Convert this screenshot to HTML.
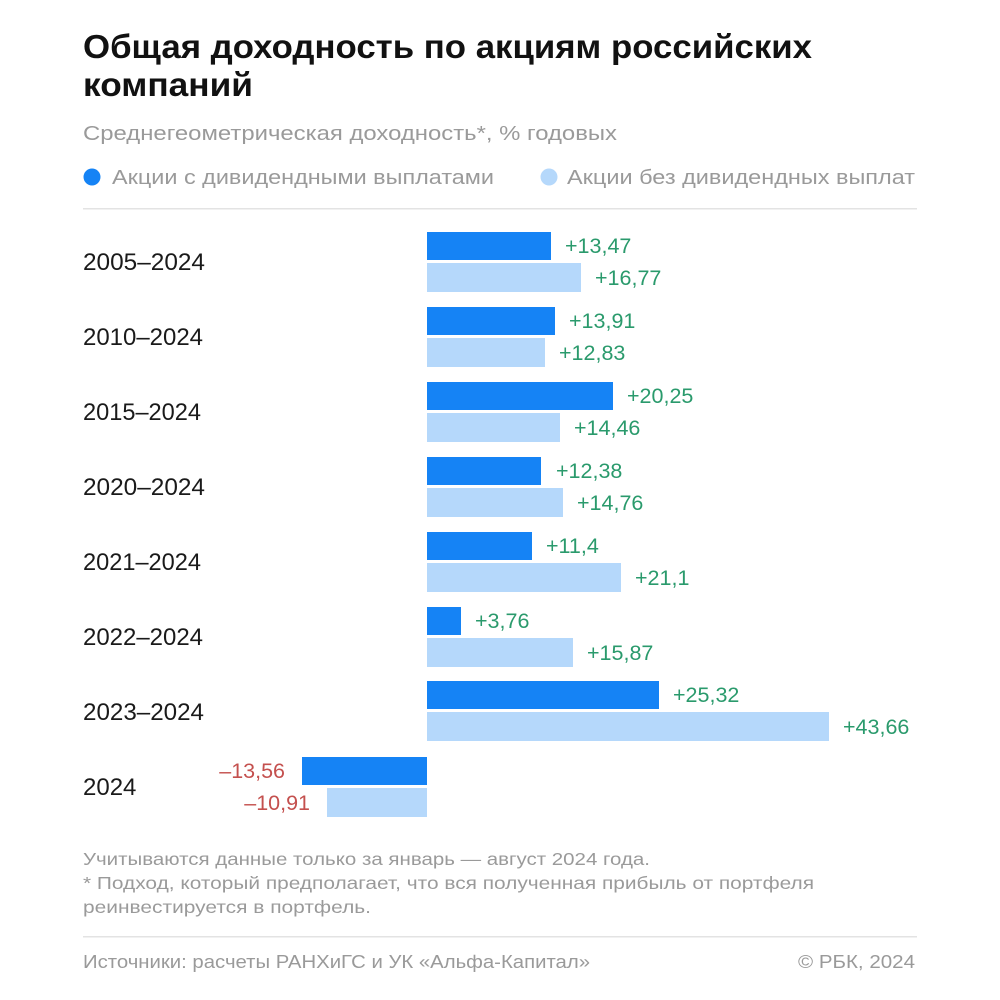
<!DOCTYPE html>
<html><head><meta charset="utf-8">
<style>
html,body{margin:0;padding:0;background:#fff;}
svg{display:block;}
text{font-family:"Liberation Sans","Noto Sans CJK SC",sans-serif;}
</style></head>
<body>
<svg width="1000" height="1000" viewBox="0 0 1000 1000" xmlns="http://www.w3.org/2000/svg">
<rect width="1000" height="1000" fill="#fff"/>
<!-- Title -->
<text x="83" y="58" font-size="33" font-weight="bold" fill="#111" textLength="729" lengthAdjust="spacingAndGlyphs">Общая доходность по акциям российских</text>
<text x="83" y="96" font-size="33" font-weight="bold" fill="#111" textLength="170" lengthAdjust="spacingAndGlyphs">компаний</text>
<text x="83" y="140" font-size="20.5" fill="#9a9a9a" textLength="534" lengthAdjust="spacingAndGlyphs">Среднегеометрическая доходность*, % годовых</text>
<!-- Legend -->
<circle cx="92" cy="177" r="8.5" fill="#1583f5"/>
<text x="112" y="184" font-size="20.5" fill="#9a9a9a" textLength="382" lengthAdjust="spacingAndGlyphs">Акции с дивидендными выплатами</text>
<circle cx="549" cy="177" r="8.5" fill="#b5d8fb"/>
<text x="567" y="184" font-size="20.5" fill="#9a9a9a" textLength="348" lengthAdjust="spacingAndGlyphs">Акции без дивидендных выплат</text>
<rect x="83" y="208" width="834" height="1.5" fill="#e3e3e3"/>

<!-- Category labels -->
<g font-size="24" fill="#1a1a1a">
<text x="83" y="270" textLength="122" lengthAdjust="spacingAndGlyphs">2005–2024</text>
<text x="83" y="345" textLength="120" lengthAdjust="spacingAndGlyphs">2010–2024</text>
<text x="83" y="420" textLength="118" lengthAdjust="spacingAndGlyphs">2015–2024</text>
<text x="83" y="495" textLength="122" lengthAdjust="spacingAndGlyphs">2020–2024</text>
<text x="83" y="570" textLength="118" lengthAdjust="spacingAndGlyphs">2021–2024</text>
<text x="83" y="645" textLength="120" lengthAdjust="spacingAndGlyphs">2022–2024</text>
<text x="83" y="720" textLength="121" lengthAdjust="spacingAndGlyphs">2023–2024</text>
<text x="83" y="795">2024</text>
</g>

<!-- Bars: zero at 427, scale 9.2 px/unit -->
<g>
<rect x="427" y="232" width="124" height="28" fill="#1583f5"/>
<rect x="427" y="263" width="154" height="29" fill="#b5d8fb"/>
<rect x="427" y="307" width="128" height="28" fill="#1583f5"/>
<rect x="427" y="338" width="118" height="29" fill="#b5d8fb"/>
<rect x="427" y="382" width="186" height="28" fill="#1583f5"/>
<rect x="427" y="413" width="133" height="29" fill="#b5d8fb"/>
<rect x="427" y="457" width="114" height="28" fill="#1583f5"/>
<rect x="427" y="488" width="136" height="29" fill="#b5d8fb"/>
<rect x="427" y="532" width="105" height="28" fill="#1583f5"/>
<rect x="427" y="563" width="194" height="29" fill="#b5d8fb"/>
<rect x="427" y="607" width="34" height="28" fill="#1583f5"/>
<rect x="427" y="638" width="146" height="29" fill="#b5d8fb"/>
<rect x="427" y="681" width="232" height="28" fill="#1583f5"/>
<rect x="427" y="712" width="402" height="29" fill="#b5d8fb"/>
<rect x="302" y="757" width="125" height="28" fill="#1583f5"/>
<rect x="327" y="788" width="100" height="29" fill="#b5d8fb"/>
</g>

<!-- Value labels -->
<g font-size="21.5" fill="#2a9a6c">
<text x="565" y="253">+13,47</text>
<text x="595" y="285">+16,77</text>
<text x="569" y="328">+13,91</text>
<text x="559" y="360">+12,83</text>
<text x="627" y="403">+20,25</text>
<text x="574" y="435">+14,46</text>
<text x="556" y="478">+12,38</text>
<text x="577" y="510">+14,76</text>
<text x="546" y="553">+11,4</text>
<text x="635" y="585">+21,1</text>
<text x="475" y="628">+3,76</text>
<text x="587" y="660">+15,87</text>
<text x="673" y="702">+25,32</text>
<text x="843" y="734">+43,66</text>
</g>
<g font-size="21.5" fill="#c4504e" text-anchor="end">
<text x="285" y="778">–13,56</text>
<text x="310" y="810">–10,91</text>
</g>

<!-- Footnotes -->
<g font-size="17.5" fill="#9a9a9a">
<text x="83" y="865" textLength="567" lengthAdjust="spacingAndGlyphs">Учитываются данные только за январь — август 2024 года.</text>
<text x="83" y="889" textLength="731" lengthAdjust="spacingAndGlyphs">* Подход, который предполагает, что вся полученная прибыль от портфеля</text>
<text x="83" y="913" textLength="288" lengthAdjust="spacingAndGlyphs">реинвестируется в портфель.</text>
</g>
<rect x="83" y="936" width="834" height="1.5" fill="#e3e3e3"/>
<g font-size="18.5" fill="#9a9a9a">
<text x="83" y="968" textLength="507" lengthAdjust="spacingAndGlyphs">Источники: расчеты РАНХиГС и УК «Альфа-Капитал»</text>
<text x="798" y="968" textLength="117" lengthAdjust="spacingAndGlyphs">© РБК, 2024</text>
</g>
</svg>
</body></html>
